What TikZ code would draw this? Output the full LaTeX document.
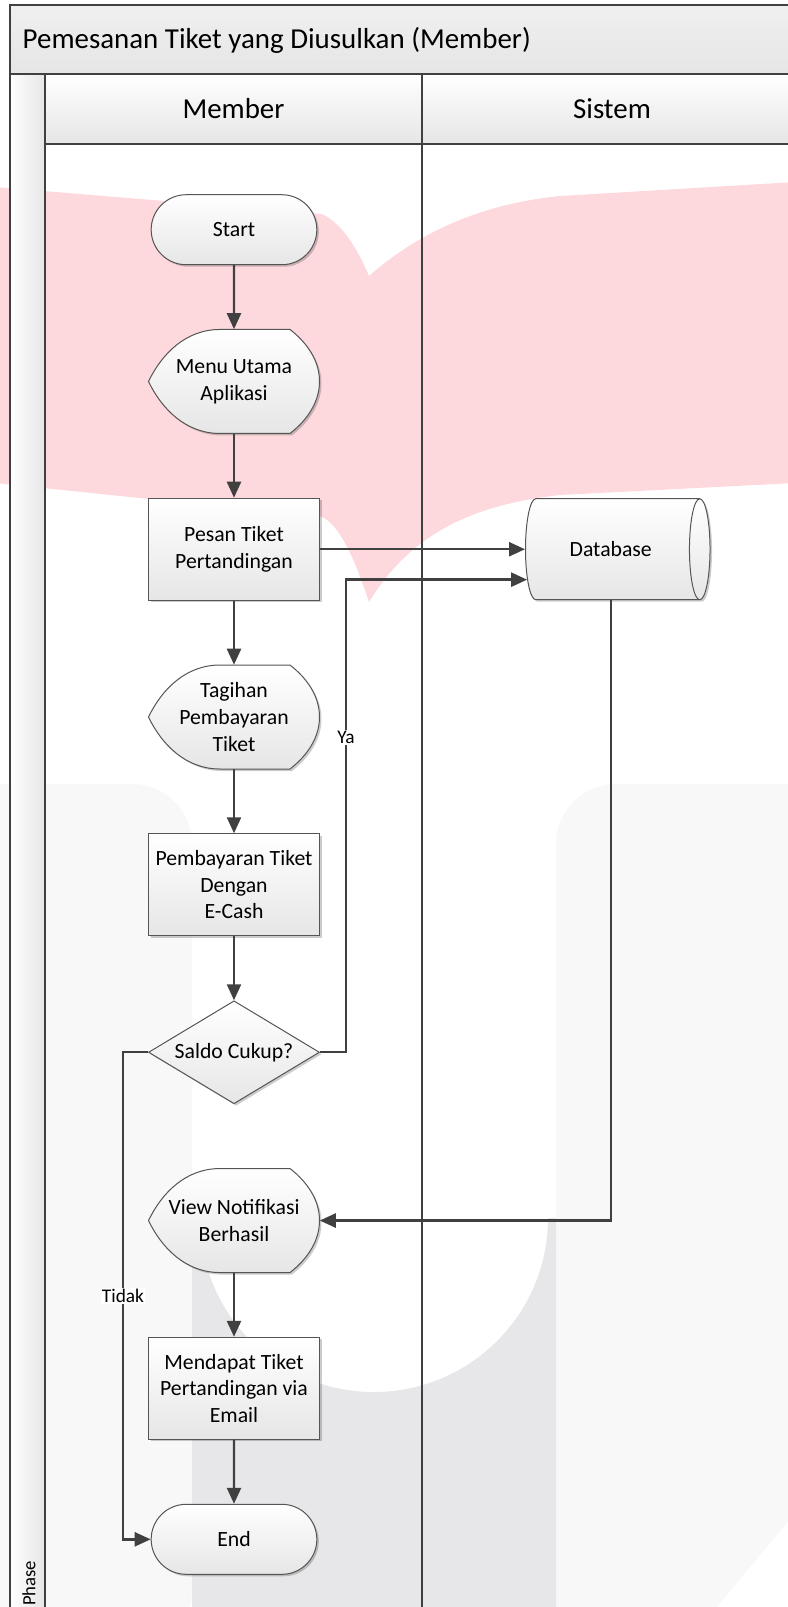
\documentclass[tikz,border=0pt]{standalone}
\usepackage{fontspec}
\setmainfont{Carlito}
\usetikzlibrary{positioning,shapes.geometric,shapes.misc,arrows.meta,shadows}
\definecolor{linegray}{RGB}{64,64,64}
\definecolor{edgegray}{RGB}{85,85,85}
\definecolor{boxgray}{RGB}{230,230,230}
\definecolor{wmpink}{RGB}{253,217,221}
\definecolor{wmgray}{RGB}{231,231,233}
\definecolor{wmlight}{RGB}{248,248,248}
\pgfdeclarelayer{bg}
\pgfdeclarelayer{shapes}
\pgfsetlayers{bg,shapes,main}
\newcommand{\boxfont}{\fontsize{16.3}{20}\selectfont}
\newcommand{\labelfont}{\fontsize{14.5}{17}\selectfont}
\newcommand{\headfont}{\fontsize{21.7}{26}\selectfont}
\newcommand{\phasefont}{\fontsize{14}{17}\selectfont}
\tikzset{
  box shadow/.style={
    drop shadow={shadow xshift=1.5pt, shadow yshift=-1.5pt, fill=black, opacity=0.2},
  },
  process box/.style={
    rectangle,
    draw=edgegray,
    line width=0.75pt,
    top color=white,
    bottom color=boxgray,
    minimum width=128.25pt,
    minimum height=76.5pt,
    inner sep=2pt,
    align=center,
    font=\boxfont,
    box shadow,
  },
  terminal box/.style={process box, rounded rectangle, minimum height=52.5pt},
  decision box/.style={process box, diamond, aspect=1.66, minimum height=77.25pt, inner sep=0pt},
  store box/.style={process box, cylinder, aspect=1, minimum width=75.75pt, minimum height=138.4pt},
  display box/.style={
    rectangle,
    minimum width=128.25pt,
    minimum height=78pt,
    inner sep=2pt,
    align=center,
    font=\boxfont,
  },
  display outline/.style={
    draw=edgegray,
    line width=0.75pt,
    top color=white,
    bottom color=boxgray,
    box shadow,
  },
  flow arrow/.style={draw=linegray, line width=1.8pt, -{Triangle[length=12pt,width=10.5pt]}},
  edge label/.style={fill=white, font=\labelfont, inner sep=1pt},
  lane line/.style={draw=linegray, line width=1.1pt},
}
% outline of a display node, drawn behind its text
\newcommand{\displayshape}[1]{%
  \begin{pgfonlayer}{shapes}
    \draw[display outline, shift={(#1.center)}] (-85.5,0)
      .. controls (-72,-28) and (-48,-52) .. (-14,-52) -- (56,-52)
      .. controls (74,-38) and (85.5,-20) .. (85.5,0)
      .. controls (85.5,20) and (74,38) .. (56,52) -- (-14,52)
      .. controls (-48,52) and (-72,28) .. (-85.5,0) -- cycle;
  \end{pgfonlayer}}

\begin{document}
\begin{tikzpicture}[x=0.75pt, y=-0.75pt, node distance=48pt]
  \useasboundingbox (0,0) rectangle (788,1607);

  \begin{pgfonlayer}{bg}
    % watermark
    \fill[wmpink] (-5,187) -- (322,214) .. controls (345,225) and (360,255) .. (369,276)
      .. controls (410,240) and (470,205) .. (560,196) -- (795,182) -- (795,483)
      -- (560,495) .. controls (470,505) and (410,535) .. (369,602)
      .. controls (355,560) and (340,525) .. (322,517) -- (-5,483) -- cycle;
    \fill[wmlight, rounded corners=45pt] (-40,784) -- (192,784) -- (192,1650)
      [sharp corners] -- (-40,1650) -- cycle;
    \fill[wmlight, rounded corners=45pt] (556,1650) -- (556,784) -- (900,784)
      [sharp corners] -- (900,1387) -- (681,1650) -- cycle;
    \fill[wmgray] (192,1218) -- (192,1650) -- (556,1650) -- (556,1218) -- (548,1218)
      arc (0:180:174) -- cycle;

    % pool and lanes
    \shade[top color=black!6, bottom color=black!10] (10,5) rectangle (802,74);
    \shade[top color=white, bottom color=black!10] (45,74) rectangle (802,144);
    \shade[left color=white, right color=black!10] (10,74) rectangle (45,1650);
    \draw[lane line] (10,1650) -- (10,5) -- (802,5) -- (802,1650);
    \draw[lane line] (10,74) -- (802,74);
    \draw[lane line] (45,74) -- (45,1650);
    \draw[lane line] (45,144) -- (802,144);
    \draw[lane line] (422,74) -- (422,1650);
    \node[anchor=west, font=\headfont] (title) at (18,40) {Pemesanan Tiket yang Diusulkan (Member)};
    \node[font=\headfont] (lane member) at (233.5,109) {Member};
    \node[font=\headfont] (lane sistem) at (612,109) {Sistem};
    \node[rotate=90, anchor=west, inner sep=0pt, font=\phasefont] (phase) at (29,1606) {Phase};
  \end{pgfonlayer}

  \node[terminal box] (start) at (234,229.7) {Start};
  \node[display box, below=of start] (menu) {Menu Utama\\Aplikasi};
  \node[process box, below=of menu] (pesan) {Pesan Tiket\\Pertandingan};
  \node[store box, right=153.75pt of pesan] (db) {Database};
  \node[display box, below=of pesan] (tagihan) {Tagihan\\Pembayaran\\Tiket};
  \node[process box, below=of tagihan] (bayar) {Pembayaran Tiket\\Dengan\\E-Cash};
  \node[decision box, below=of bayar] (saldo) {Saldo Cukup?};
  \node[display box, below=of saldo] (notif) {View Notifikasi\\Berhasil};
  \node[process box, below=of notif] (email) {Mendapat Tiket\\Pertandingan via\\Email};
  \node[terminal box, below=of email] (finish) {End};
  \displayshape{menu}
  \displayshape{tagihan}
  \displayshape{notif}

  \draw[flow arrow] (start) -- (menu);
  \draw[flow arrow] (menu) -- (pesan);
  \draw[flow arrow] (pesan) -- (db);
  \draw[flow arrow] (pesan) -- (tagihan);
  \draw[flow arrow] (tagihan) -- (bayar);
  \draw[flow arrow] (bayar) -- (saldo);
  \draw[flow arrow] (saldo.east) -- ++(19.5pt,0) |- node[edge label, pos=0.333] (ya label) {Ya} (db.200);
  \draw[flow arrow] (saldo.west) -- ++(-18.75pt,0) |- node[edge label, pos=0.25] (tidak label) {Tidak} (finish.west);
  \draw[flow arrow] (db.south) |- (notif.east);
  \draw[flow arrow] (notif) -- (email);
  \draw[flow arrow] (email) -- (finish);
\end{tikzpicture}
\end{document}
